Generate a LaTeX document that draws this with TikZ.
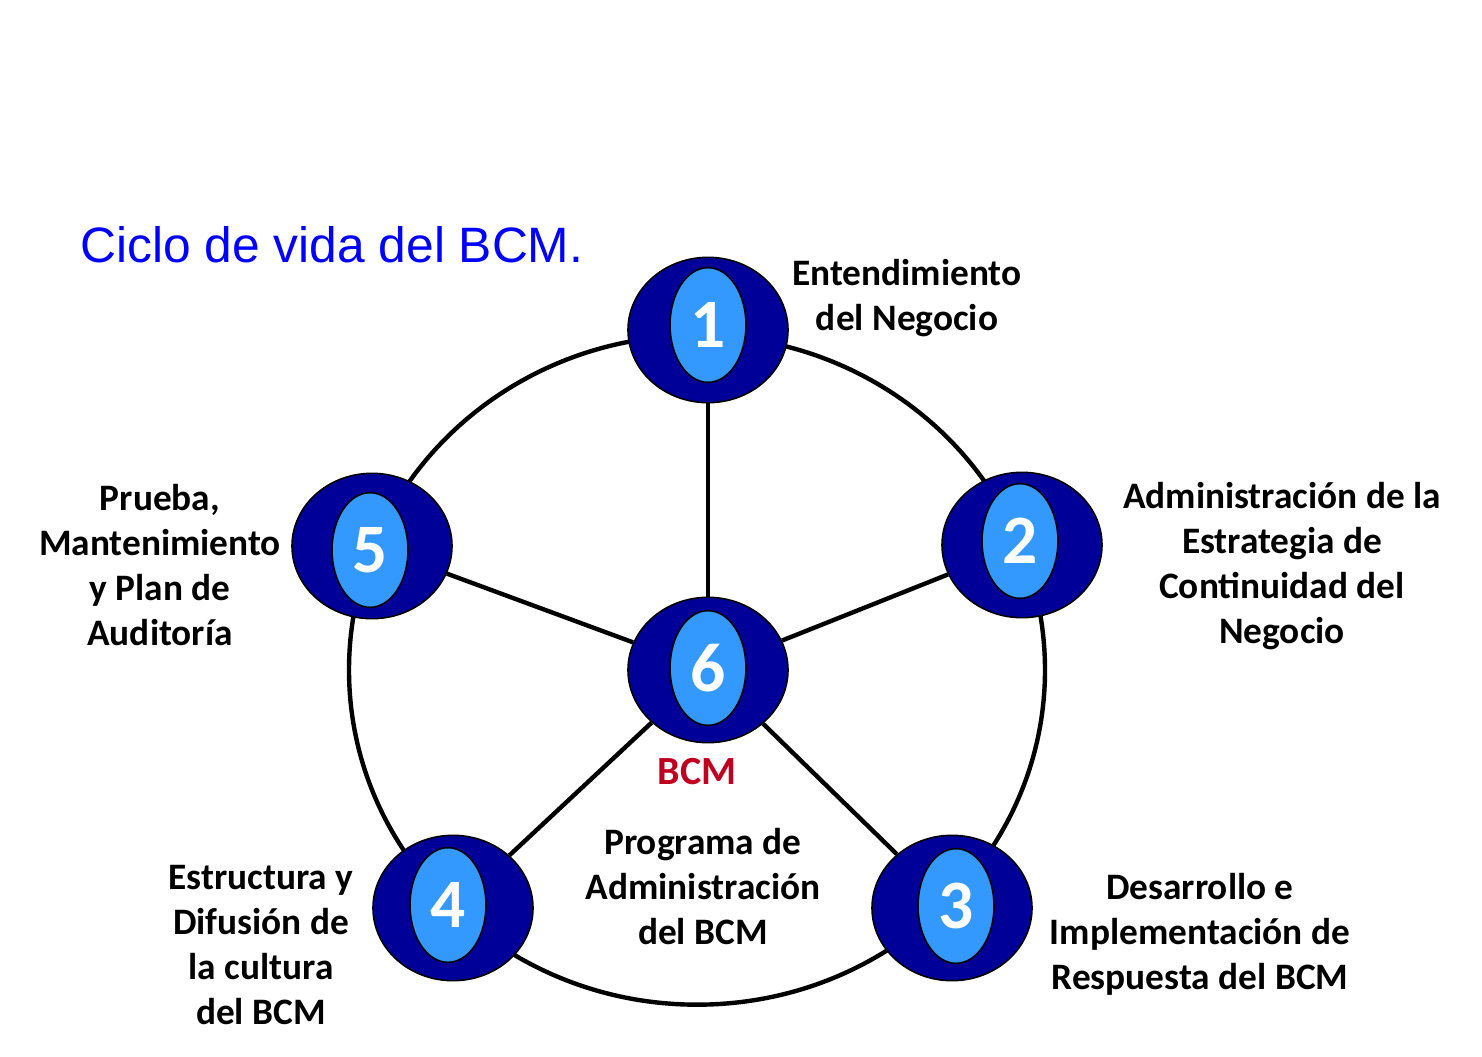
\documentclass[tikz,border=0pt]{standalone}
\usepackage{fontspec}
\setmainfont{Carlito}
\newfontfamily\titlefont{Liberation Sans}
\usetikzlibrary{shapes.geometric,positioning}
\definecolor{bcmnavy}{RGB}{0,0,153}
\definecolor{bcmsky}{RGB}{51,153,255}
\definecolor{bcmred}{RGB}{192,0,32}
\definecolor{titleblue}{RGB}{0,0,255}
\tikzset{
  bcm outer/.style={
    ellipse,
    draw=black,
    line width=1.2pt,
    fill=bcmnavy,
    minimum width=120pt,
    minimum height=109pt,
    inner sep=0pt,
  },
  bcm inner/.style={
    ellipse,
    draw=black,
    line width=1.2pt,
    fill=bcmsky,
    minimum width=57pt,
    minimum height=86pt,
    inner sep=0pt,
    text=white,
    font=\fontsize{52}{52}\selectfont\bfseries,
  },
  bcm label/.style={align=center, font=\fontsize{28}{33.75}\selectfont\bfseries},
  bcm link/.style={line width=3.3pt, black},
}
\begin{document}
\begin{tikzpicture}[x=0.75pt, y=-0.75pt]
  \useasboundingbox (0,0) rectangle (1482,1057);

  % ring behind the steps
  \coordinate (ring) at (697,670);
  \draw[bcm link] (ring) ellipse[x radius=261pt, y radius=251pt];

  \node[bcm outer] (n1) at (708,330) {};
  \node[bcm outer] (n2) at (1022,545) {};
  \node[bcm outer] (n3) at (952,908) {};
  \node[bcm outer] (n4) at (453,908) {};
  \node[bcm outer] (n5) at (372,546) {};
  \node[bcm outer] (n6) at (708,670) {};

  \node[bcm inner] (n1i) at (708,325) {1};
  \node[bcm inner] (n2i) at (1020,541) {2};
  \node[bcm inner] (n3i) at (956,906) {3};
  \node[bcm inner] (n4i) at (448,905) {4};
  \node[bcm inner] (n5i) at (370,550) {5};
  \node[bcm inner] (n6i) at (708,668) {6};

  % spokes from the centre
  \draw[bcm link] (n6) -- (n1);
  \draw[bcm link] (n6) -- (n2);
  \draw[bcm link] (n6) -- (n3);
  \draw[bcm link] (n6) -- (n4);
  \draw[bcm link] (n6) -- (n5);

  \node[bcm label] (l1) at (907,298) {Entendimiento\\del Negocio};
  \node[bcm label] (l2) at (1282,566) {Administración de la\\Estrategia de\\Continuidad del\\Negocio};
  \node[bcm label] (l3) at (1200,934) {Desarrollo e\\Implementación de\\Respuesta del BCM};
  \node[bcm label] (l4) at (261,945) {Estructura y\\Difusión de\\la cultura\\del BCM};
  \node[bcm label] (l5) at (160,565) {Prueba,\\Mantenimiento\\y Plan de\\Auditoría};
  \node[bcm label] (l6) at (703,887) {Programa de\\Administración\\del BCM};
  \node[font=\fontsize{30}{30}\selectfont\bfseries, text=bcmred] (bcm) at (697,772) {BCM};

  \node[anchor=west, inner sep=0pt, text=titleblue, font=\titlefont\fontsize{37.3}{37.3}\selectfont] (title) at (80,245) {Ciclo de vida del BCM.};
\end{tikzpicture}
\end{document}
